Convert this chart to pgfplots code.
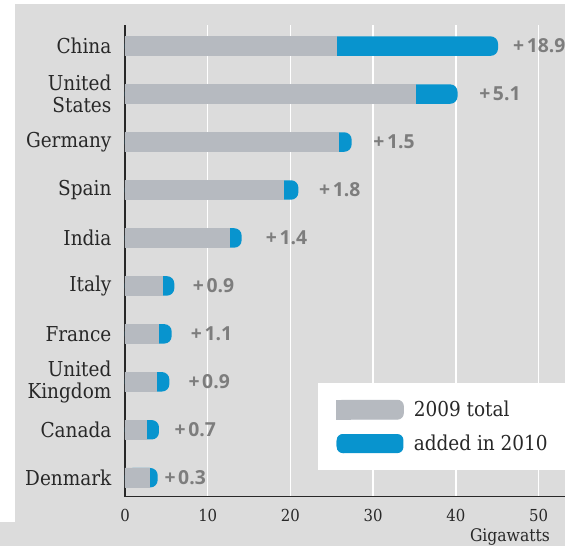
\documentclass[border=0pt]{standalone}
\usepackage{fontspec}
\setmainfont{DejaVu Serif Condensed}
\newfontfamily\numfont{Open Sans}
\usepackage{pgfplots}
\usepackage{pgfplotstable}
\pgfplotsset{compat=1.18}
\definecolor{bg}{RGB}{220,220,220}
\definecolor{barg}{RGB}{182,186,192}
\definecolor{barb}{RGB}{8,148,206}
\definecolor{lab}{RGB}{125,125,125}
\definecolor{txt}{RGB}{40,40,40}

\pgfplotstableread{
y base total lx lab
9 25.6 45.1 46.9 18.9
8 35.08 40.2 42.8 5.1
7 25.8 27.4 30.0 1.5
6 19.2 20.96 23.45 1.8
5 12.6 14.1 17.0 1.4
4 4.56 5.96 8.18 0.9
3 4.07 5.64 7.94 1.1
2 3.83 5.36 7.65 0.9
1 2.54 4.11 5.96 0.7
0 2.94 3.95 4.75 0.3
}\data

\begin{document}
\begin{tikzpicture}
\path[use as bounding box] (-93.75pt,-36.98pt) rectangle (330pt,372.5pt);
\clip (-93.75pt,-36.98pt) rectangle (330pt,372.5pt);
\fill[bg] (-82.5pt,-36.98pt) rectangle (330pt,369.5pt);
\fill[bg] (-93.75pt,-36.98pt) rectangle (330pt,-18.98pt);
\begin{axis}[
  scale only axis, width=335pt, height=353.8pt,
  xmin=0, xmax=54, ymin=-0.395, ymax=9.442,
  clip=false,
  axis lines*=left,
  axis line style={line width=1.1pt, draw=txt},
  xtick={0,10,...,50}, ytick={0,...,9},
  yticklabels={Denmark, Canada, {United\\Kingdom}, France, Italy, India, Spain, Germany, {United\\States}, China},
  major tick length=0pt,
  xmajorgrids, major grid style={white, line width=1.1pt},
  /pgf/number format/assume math mode=true,
  xticklabel style={font=\fontsize{12.4}{14}\selectfont, text=txt, inner sep=0pt, yshift=-9.2pt},
  yticklabel style={font=\fontsize{15.4}{16.5}\selectfont, text=txt, align=right, inner sep=0pt, xshift=-10pt},
  legend style={at={(axis cs:23.34,1.976)}, anchor=north west, fill=white, draw=none,
    inner xsep=13.5pt, inner ysep=12.4pt, row sep=10.8pt, column sep=7.5pt,
    nodes={inner sep=0pt, text=txt}, font=\fontsize{15.4}{16.5}\selectfont, cells={anchor=west}},
  reverse legend,
]
\addplot[xbar, bar width=14.6pt, bar shift=0pt, fill=barb, draw=none, rounded corners=5.5pt,
  legend image code/.code={\fill[barb, rounded corners=4.5pt] (0pt,-7.15pt) rectangle (50pt,7.15pt); \fill[barb] (0pt,-7.15pt) rectangle (10pt,7.15pt);}]
  table[x=total, y=y] {\data};
\addlegendentry{added in 2010}
\addplot[xbar, bar width=14.6pt, bar shift=0pt, fill=barg, draw=barg, line width=0.6pt,
  legend image code/.code={\fill[barg, rounded corners=4.5pt] (0pt,-7.15pt) rectangle (50pt,7.15pt); \fill[barg] (0pt,-7.15pt) rectangle (10pt,7.15pt);}]
  table[x=base, y=y] {\data};
\addlegendentry{2009 total}
\addplot[draw=none, mark=none, forget plot,
  nodes near coords={+\kern2pt\pgfplotspointmeta}, point meta=explicit symbolic,
  nodes near coords style={anchor=west, inner sep=0pt, font=\numfont\bfseries\fontsize{14.5}{16}\selectfont, text=lab}]
  table[x=lx, y=y, meta=lab] {\data};
\node[anchor=base east, font=\fontsize{13}{15}\selectfont, text=txt, inner sep=0pt] at (axis cs:51.4,-0.395) [yshift=-33.6pt] {Gigawatts};
\end{axis}
\end{tikzpicture}
\end{document}
